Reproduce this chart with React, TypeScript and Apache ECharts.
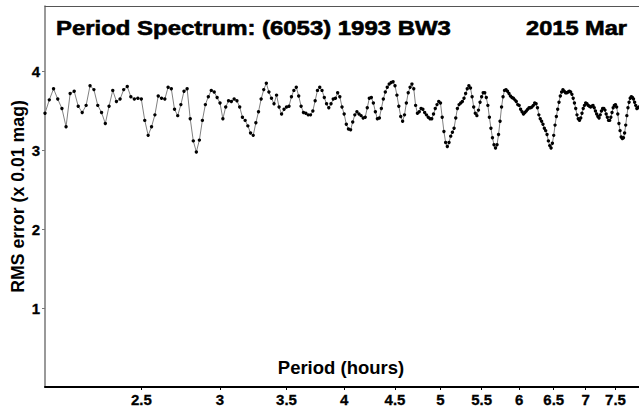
import React, { useEffect, useRef } from "react";
import * as echarts from "echarts";

const TITLE = "Period Spectrum: (6053) 1993 BW3";
const DATE_LABEL = "2015 Mar";
const X_NAME = "Period (hours)";
const Y_NAME = "RMS error (x 0.01 mag)";

const PERIOD_TICKS = [2.5, 3, 3.5, 4, 4.5, 5, 5.5, 6, 6.5, 7, 7.5];
const RMS_TICKS = [1, 2, 3, 4];
const PERIOD_MIN = 2.0;
const PERIOD_MAX = 7.92;
const RMS_MIN = 0;
const RMS_MAX = 4.83;
const PERIOD_STEP = 0.02;

// RMS error (x 0.01 mag), one value every 0.02 h, starting at each segment's period
const rms2 = [
  3.47, 3.64, 3.78, 3.65, 3.53, 3.30, 3.72, 3.75, 3.56, 3.48,
  3.57, 3.82, 3.77, 3.57, 3.48, 3.34, 3.56, 3.76, 3.62, 3.65,
  3.77, 3.81, 3.68, 3.65, 3.66, 3.65, 3.38, 3.19, 3.30, 3.45,
  3.69, 3.66, 3.65, 3.80, 3.78, 3.52, 3.44, 3.58, 3.75, 3.78,
  3.40, 3.12, 2.98, 3.13, 3.38, 3.58, 3.68, 3.76, 3.74, 3.67,
];
const rms3 = [
  3.60, 3.40, 3.55, 3.63, 3.62, 3.65, 3.63, 3.55, 3.42, 3.38,
  3.31, 3.22, 3.19, 3.35, 3.49, 3.65, 3.77, 3.85, 3.74, 3.66,
  3.59, 3.70, 3.55, 3.46, 3.52, 3.55, 3.56, 3.68, 3.76, 3.80,
  3.69, 3.56, 3.48, 3.47, 3.45, 3.45, 3.50, 3.63, 3.76, 3.80,
  3.76, 3.67, 3.59, 3.54, 3.59, 3.65, 3.66, 3.73, 3.68, 3.55,
];
const rms4 = [
  3.46, 3.33, 3.27, 3.26, 3.36, 3.45, 3.49, 3.46, 3.44, 3.41,
  3.42, 3.54, 3.66, 3.67, 3.60, 3.49, 3.40, 3.41, 3.53, 3.65,
  3.74, 3.80, 3.84, 3.86, 3.87, 3.82, 3.70, 3.56, 3.43, 3.37,
  3.45, 3.60, 3.73, 3.80, 3.84, 3.78, 3.57, 3.47, 3.49, 3.53,
  3.52, 3.48, 3.45, 3.42, 3.40, 3.40, 3.46, 3.53, 3.58, 3.62,
];
const rms5 = [
  3.60, 3.42, 3.24, 3.10, 3.05, 3.10, 3.18, 3.23, 3.28, 3.41,
  3.53, 3.58, 3.60, 3.62, 3.66, 3.72, 3.78, 3.82, 3.79, 3.68,
  3.55, 3.47, 3.44, 3.51, 3.61, 3.68, 3.73, 3.73, 3.67, 3.57,
  3.42, 3.28, 3.16, 3.07, 3.03, 3.07, 3.20, 3.37, 3.55, 3.68,
  3.76, 3.77, 3.75, 3.72, 3.69, 3.67, 3.66, 3.64, 3.62, 3.58,
];
const rms6 = [
  3.57, 3.52, 3.49, 3.46, 3.48, 3.50, 3.52, 3.54, 3.54, 3.55,
  3.57, 3.60, 3.59, 3.54, 3.45, 3.40, 3.37, 3.33, 3.28, 3.25,
  3.20, 3.12, 3.06, 3.03, 3.09, 3.19, 3.32, 3.43, 3.52, 3.61,
  3.69, 3.74, 3.77, 3.75, 3.73, 3.73, 3.74, 3.75, 3.74, 3.71,
  3.66, 3.60, 3.53, 3.45, 3.40, 3.38, 3.41, 3.47, 3.53, 3.57,
];
const rms7 = [
  3.60, 3.59, 3.57, 3.56, 3.55, 3.56, 3.57, 3.54, 3.50, 3.46,
  3.43, 3.41, 3.45, 3.50, 3.53, 3.53, 3.51, 3.46, 3.42, 3.38,
  3.38, 3.42, 3.48, 3.54, 3.57, 3.58, 3.55, 3.46, 3.34, 3.25,
  3.17, 3.15, 3.16, 3.22, 3.32, 3.44, 3.54, 3.61, 3.66, 3.68,
  3.67, 3.65, 3.61, 3.57, 3.53, 3.54, 3.55,
];

const SEGMENT_STARTS = [2, 3, 4, 5, 6, 7];
const SEGMENT_VALUES = [rms2, rms3, rms4, rms5, rms6, rms7];

const FONT = "'Liberation Sans', Arial, sans-serif";

export default function App() {
  const ref = useRef<HTMLDivElement>(null);

  useEffect(() => {
    if (!ref.current) return;
    const chart = echarts.init(ref.current, null, { renderer: "svg" });

    const data: number[][] = [];
    SEGMENT_STARTS.forEach((start, s) => {
      SEGMENT_VALUES[s].forEach((v, i) => {
        const period = Math.round((start + i * PERIOD_STEP) * 100) / 100;
        data.push([Math.log(period), v]);
      });
    });

    const xTicks = PERIOD_TICKS.map((p) => Math.log(p));
    const xMin = Math.log(PERIOD_MIN);
    const xMax = Math.log(PERIOD_MAX);

    const labelStyle = {
      fontFamily: FONT,
      fontWeight: "bold",
      fontSize: 15,
      color: "#000",
      textBorderColor: "#000",
      textBorderWidth: 0.3,
    };

    const option: any = {
      animation: false,
      backgroundColor: "#ffffff",
      grid: { left: 45, right: 0, top: 6, bottom: 24, containLabel: false },
      xAxis: [
        {
          type: "value",
          position: "bottom",
          min: xMin,
          max: xMax,
          axisLine: { show: true, onZero: false, lineStyle: { color: "#000", width: 2 } },
          axisTick: {
            show: true,
            customValues: xTicks,
            length: 3,
            lineStyle: { color: "#000", width: 1 },
          },
          axisLabel: {
            customValues: xTicks,
            formatter: (v: number) => String(+Math.exp(v).toFixed(1)),
            margin: 5,
            ...labelStyle,
          },
          splitLine: { show: false },
        },
        {
          type: "value",
          position: "top",
          min: xMin,
          max: xMax,
          axisLine: { show: true, onZero: false, lineStyle: { color: "#555", width: 1 } },
          axisTick: { show: false },
          axisLabel: { show: false },
          splitLine: { show: false },
        },
      ],
      yAxis: {
        type: "value",
        min: RMS_MIN,
        max: RMS_MAX,
        axisLine: { show: true, onZero: false, lineStyle: { color: "#777", width: 1.5 } },
        axisTick: {
          show: true,
          customValues: RMS_TICKS,
          length: 3,
          lineStyle: { color: "#777", width: 1 },
        },
        axisLabel: {
          customValues: RMS_TICKS,
          margin: 5,
          ...labelStyle,
        },
        splitLine: { show: false },
      },
      series: [
        {
          type: "line",
          xAxisIndex: 0,
          data,
          symbol: "circle",
          symbolSize: 3.4,
          showSymbol: true,
          showAllSymbol: true,
          silent: true,
          itemStyle: { color: "#000" },
          lineStyle: { color: "#808080", width: 1 },
        },
      ],
      graphic: [
        {
          type: "text",
          x: 56,
          y: 28.5,
          scaleX: 1.14,
          style: {
            text: TITLE,
            fontSize: 21,
            fontWeight: "bold",
            fontFamily: FONT,
            fill: "#000",
            stroke: "#000",
            lineWidth: 0.6,
            align: "left",
            verticalAlign: "middle",
          },
        },
        {
          type: "text",
          x: 627,
          y: 28.5,
          scaleX: 1.18,
          style: {
            text: DATE_LABEL,
            fontSize: 20,
            fontWeight: "bold",
            fontFamily: FONT,
            fill: "#000",
            stroke: "#000",
            lineWidth: 0.6,
            align: "right",
            verticalAlign: "middle",
          },
        },
        {
          type: "text",
          x: 341,
          y: 367,
          style: {
            text: X_NAME,
            fontSize: 18.5,
            fontWeight: "bold",
            fontFamily: FONT,
            fill: "#000",
            align: "center",
            verticalAlign: "middle",
          },
        },
        {
          type: "text",
          x: 17.5,
          y: 196.5,
          rotation: Math.PI / 2,
          style: {
            text: Y_NAME,
            fontSize: 17.7,
            fontWeight: "bold",
            fontFamily: FONT,
            fill: "#000",
            align: "center",
            verticalAlign: "middle",
          },
        },
      ],
    };

    chart.setOption(option);
    return () => chart.dispose();
  }, []);

  return (
    <div
      ref={ref}
      style={{ position: "fixed", left: 0, top: 0, width: 639, height: 411, background: "#fff" }}
    />
  );
}
